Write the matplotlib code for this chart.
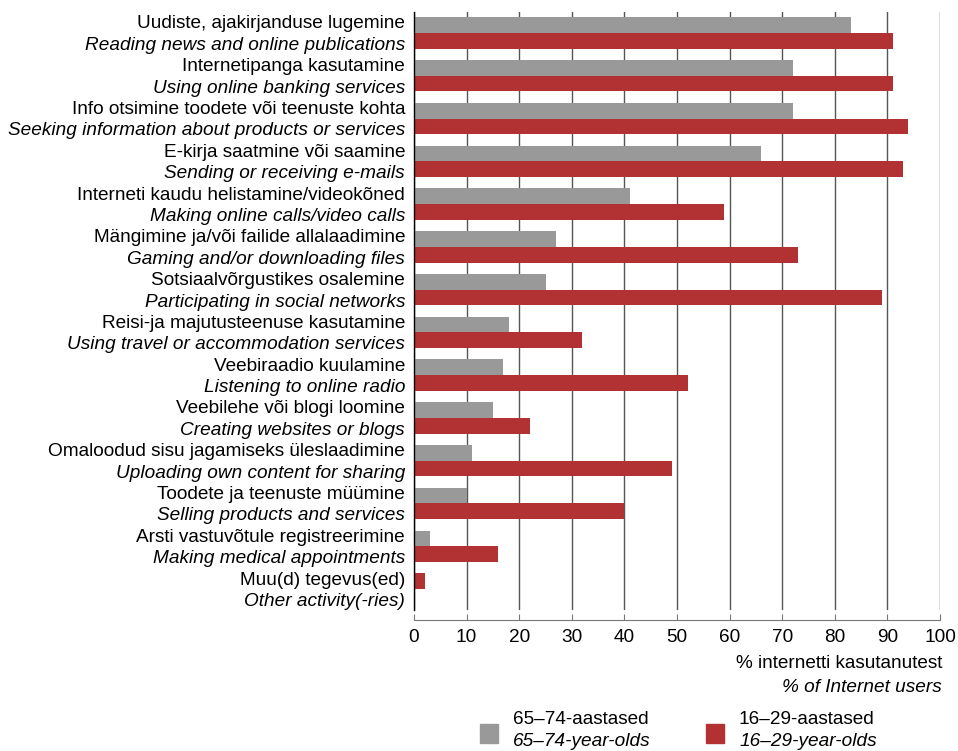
import numpy as np
import matplotlib
matplotlib.use("Agg")
import matplotlib.pyplot as plt
from matplotlib.patches import Rectangle

plt.rcParams["font.family"] = ["Liberation Sans", "DejaVu Sans"]

# ── data ──────────────────────────────────────────────────────────────────────
labels_et = [
    "Uudiste, ajakirjanduse lugemine",
    "Internetipanga kasutamine",
    "Info otsimine toodete või teenuste kohta",
    "E-kirja saatmine või saamine",
    "Interneti kaudu helistamine/videokõned",
    "Mängimine ja/või failide allalaadimine",
    "Sotsiaalvõrgustikes osalemine",
    "Reisi-ja majutusteenuse kasutamine",
    "Veebiraadio kuulamine",
    "Veebilehe või blogi loomine",
    "Omaloodud sisu jagamiseks üleslaadimine",
    "Toodete ja teenuste müümine",
    "Arsti vastuvõtule registreerimine",
    "Muu(d) tegevus(ed)",
]
labels_en = [
    "Reading news and online publications",
    "Using online banking services",
    "Seeking information about products or services",
    "Sending or receiving e-mails",
    "Making online calls/video calls",
    "Gaming and/or downloading files",
    "Participating in social networks",
    "Using travel or accommodation services",
    "Listening to online radio",
    "Creating websites or blogs",
    "Uploading own content for sharing",
    "Selling products and services",
    "Making medical appointments",
    "Other activity(-ries)",
]
age_65_74 = [83, 72, 72, 66, 41, 27, 25, 18, 17, 15, 11, 10, 3, np.nan]
age_16_29 = [91, 91, 94, 93, 59, 73, 89, 32, 52, 22, 49, 40, 16, 2]
x_ticks = [0, 10, 20, 30, 40, 50, 60, 70, 80, 90, 100]

GRAY = "#999999"
RED = "#B23234"
FS = 13.7

# ── figure ────────────────────────────────────────────────────────────────────
fig = plt.figure(figsize=(9.58, 7.51), dpi=100)
ax = fig.add_axes([414 / 958, (751 - 610) / 751, (940 - 414) / 958, 598 / 751])

h = 0.367
pos = np.arange(len(labels_et))
old = np.array(age_65_74, dtype=float)
young = np.array(age_16_29, dtype=float)

# when the older group has no value the young bar moves up into its slot
young_off = np.where(np.isnan(old), -h / 2, h / 2)

ax.barh(pos - h / 2, np.nan_to_num(old), height=h, color=GRAY, zorder=3)
ax.barh(pos + young_off, young, height=h, color=RED, zorder=3)

ax.set_xlim(0, 100)
ax.set_ylim(len(pos) - 0.51, -0.49)
ax.set_xticks(x_ticks)
ax.set_yticks([])
ax.grid(axis="x", color="#555555", linewidth=1.0, zorder=0)
ax.set_axisbelow(True)
for gl in ax.get_xgridlines():
    gl.set_clip_on(False)

for s in ["top", "right"]:
    ax.spines[s].set_visible(False)
ax.spines["left"].set_color("black")
ax.spines["left"].set_linewidth(1.0)
ax.spines["left"].set_zorder(4)
ax.spines["bottom"].set_position(("outward", 7))
ax.spines["bottom"].set_color("#777777")
ax.tick_params(axis="x", direction="in", length=4, color="#777777",
               labelsize=FS, pad=7)

# two-line category labels (Estonian / English)
for i in pos:
    ax.text(-1.7, i - 0.21, labels_et[i], ha="right", va="center", fontsize=FS)
    ax.text(-1.7, i + 0.29, labels_en[i], ha="right", va="center", fontsize=FS,
            style="italic")

# axis title, bottom right
fig.text(942 / 958, 1 - 663 / 751, "% internetti kasutanutest", ha="right",
         va="center", fontsize=FS)
fig.text(942 / 958, 1 - 687 / 751, "% of Internet users", ha="right",
         va="center", fontsize=FS, style="italic")

# legend drawn by hand (two-line labels with mixed styles)
for x0, col, et, en in [(480, GRAY, "65–74-aastased", "65–74-year-olds"),
                        (706, RED, "16–29-aastased", "16–29-year-olds")]:
    fig.add_artist(Rectangle((x0 / 958, 1 - 743 / 751), 18 / 958, 19 / 751,
                             transform=fig.transFigure, color=col))
    fig.text((x0 + 33) / 958, 1 - 720 / 751, et, ha="left", va="center", fontsize=FS)
    fig.text((x0 + 33) / 958, 1 - 742 / 751, en, ha="left", va="center",
             fontsize=FS, style="italic")

fig.savefig("out.png", dpi=100)
